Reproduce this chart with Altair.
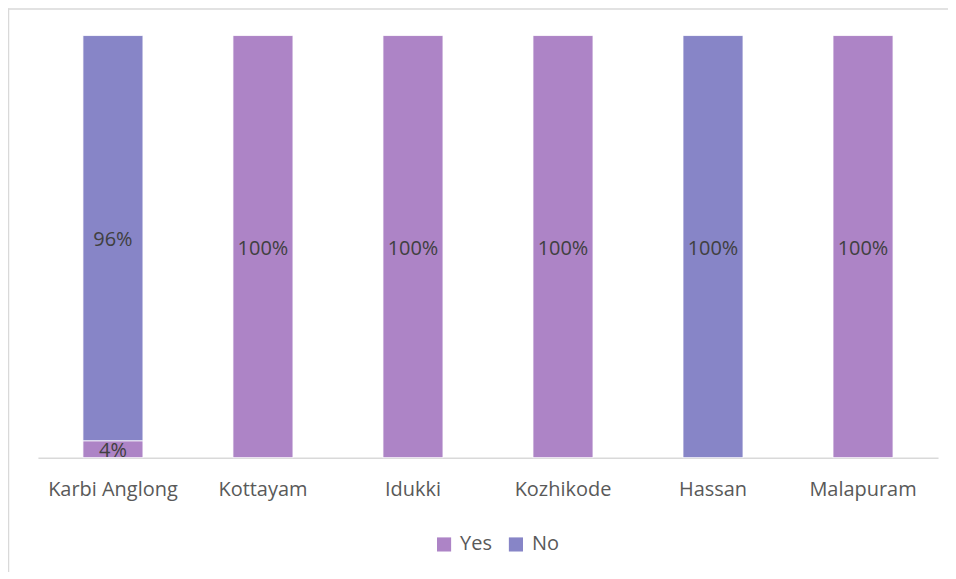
import altair as alt
import pandas as pd

districts = ["Karbi Anglong", "Kottayam", "Idukki", "Kozhikode", "Hassan", "Malapuram"]
yes_vals = [0.04, 1.00, 1.00, 1.00, 0.00, 1.00]
no_vals = [0.96, 0.00, 0.00, 0.00, 1.00, 0.00]
series = ["Yes", "No"]
colors = ["#AD84C6", "#8785C7"]

rows = []
for i, d in enumerate(districts):
    rows.append({"district": d, "answer": "Yes", "value": yes_vals[i], "ord": 0})
    rows.append({"district": d, "answer": "No", "value": no_vals[i], "ord": 1})
df = pd.DataFrame(rows)

FONT = "Open Sans"
FS = 20

base = alt.Chart(df).transform_filter("datum.value > 0").transform_stack(
    stack="value", as_=["v0", "v1"], groupby=["district"],
    sort=[alt.SortField("ord", order="ascending")]
).transform_calculate(mid="(datum.v0 + datum.v1) / 2")

xenc = alt.X("district:N", sort=districts, title=None,
             scale=alt.Scale(paddingInner=0.6, paddingOuter=0.3),
             axis=alt.Axis(labelAngle=0, labelFont=FONT, labelFontSize=FS,
                           labelColor="#595959", labelPadding=22, ticks=False,
                           domainColor="#D9D9D9", domainWidth=1.5))
yscale = alt.Scale(domain=[0, 1], nice=False)

bars = base.mark_bar(stroke="white", strokeWidth=0.8).encode(
    x=xenc,
    y=alt.Y("v0:Q", scale=yscale, axis=None),
    y2="v1:Q",
    color=alt.Color("answer:N", scale=alt.Scale(domain=series, range=colors),
                    sort=series,
                    legend=alt.Legend(title=None, orient="none", direction="horizontal",
                                      legendX=397, legendY=500, symbolType="square",
                                      symbolSize=200, symbolStrokeWidth=0,
                                      labelFont=FONT, labelFontSize=FS,
                                      labelColor="#595959", columnPadding=14,
                                      symbolOffset=0, labelOffset=6)),
)

labels = base.mark_text(font=FONT, fontSize=FS, color="#404040", baseline="middle", dy=2).encode(
    x=alt.X("district:N", sort=districts),
    y=alt.Y("mid:Q", scale=yscale),
    text=alt.Text("value:Q", format=".0%"),
)

border = alt.Chart(pd.DataFrame({"k": [0]})).mark_rule(color="#D9D9D9", strokeWidth=1.5).encode(
    x=alt.value(-29.5), x2=alt.value(-29.5), y=alt.value(-27), y2=alt.value(540))
border_top = alt.Chart(pd.DataFrame({"k": [0]})).mark_rule(color="#D9D9D9", strokeWidth=1.5).encode(
    x=alt.value(-30), x2=alt.value(920), y=alt.value(-26.5))

chart = alt.layer(bars, labels, border, border_top).properties(
    width=902, height=423,
    autosize=alt.AutoSizeParams(type="none"),
    padding={"left": 30, "top": 27, "right": 10, "bottom": 114},
).configure_view(stroke=None)

chart.save("out.html", embed_options={"renderer": "svg", "actions": False})
